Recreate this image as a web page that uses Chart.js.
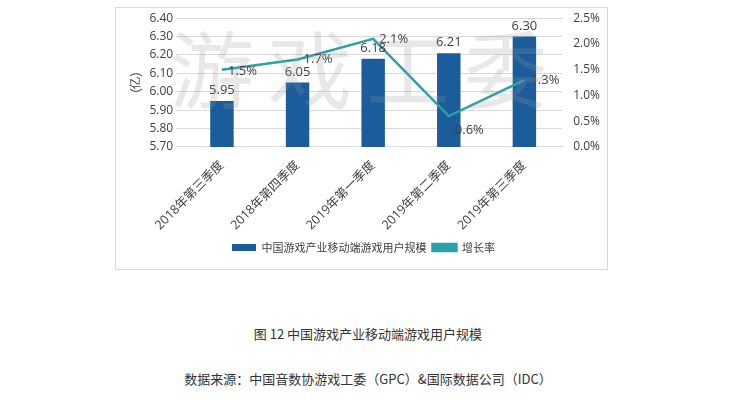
<!DOCTYPE html><html><head><meta charset="utf-8">
<script src="https://cdn.jsdelivr.net/npm/chart.js@4"></script>
<style>
body{margin:0;width:736px;height:401px;background:#fff;position:relative;font-family:"Noto Sans CJK SC",sans-serif;overflow:hidden}
#box{position:absolute;left:115px;top:7px;width:493px;height:263px;border:1px solid #d9d9d9;box-sizing:border-box}
#wm{position:absolute;left:170px;top:24px;font-size:84px;color:rgba(150,150,150,0.22);letter-spacing:14px;pointer-events:none;font-family:"Noto Sans CJK SC";line-height:1}
.cap{position:absolute;left:0;width:736px;text-align:center;font-size:13px;color:#333}
</style></head><body>
<div id="box"><canvas id="c" width="491" height="261"></canvas></div>
<div id="wm">游戏工委</div>
<div class="cap" style="top:324px">图 12 中国游戏产业移动端游戏用户规模</div>
<div class="cap" style="top:369px">数据来源：中国音数协游戏工委（GPC）&amp;国际数据公司（IDC）</div>
<script>
const categories=["2018年第三季度","2018年第四季度","2019年第一季度","2019年第二季度","2019年第三季度"];
const users=[5.95,6.05,6.18,6.21,6.30];
const growth=[1.5,1.7,2.1,0.6,1.3];
const labelPlugin={id:'lbl',afterDatasetsDraw(ch){const c=ch.ctx;c.save();c.font='13px "Open Sans","Noto Sans CJK SC"';c.fillStyle='#404040';
ch.getDatasetMeta(0).data.forEach((b,i)=>{c.textAlign='center';c.textBaseline='bottom';c.fillText(users[i].toFixed(2),b.x,b.y-4);});
ch.getDatasetMeta(1).data.forEach((p,i)=>{c.textAlign='left';c.textBaseline='middle';c.fillText(growth[i].toFixed(1)+'%',p.x+6,p.y+(i==3?14:0)+(i==0?2:0));});
c.restore();}};
new Chart(document.getElementById('c'),{data:{labels:categories,datasets:[
{type:'bar',label:'中国游戏产业移动端游戏用户规模',data:users,backgroundColor:'#1a5d9a',yAxisID:'y',barPercentage:0.62,categoryPercentage:0.5,order:2},
{type:'line',label:'增长率',data:growth,borderColor:'#2aa0aa',backgroundColor:'#2aa0aa',borderWidth:2.5,pointRadius:0,yAxisID:'y1',order:1}]},
options:{responsive:false,animation:false,layout:{padding:{left:8,right:4,top:8,bottom:6}},
plugins:{legend:{position:'bottom',labels:{sort:(a,b)=>a.datasetIndex-b.datasetIndex,boxWidth:24,boxHeight:7,font:{size:11,family:'"Noto Sans CJK SC"'},color:'#404040',padding:6}},tooltip:{enabled:false}},
scales:{x:{grid:{display:false},border:{color:'#d9d9d9'},ticks:{maxRotation:45,minRotation:45,color:'#404040',font:{size:12.5,family:'"Open Sans","Noto Sans CJK SC"'}}},
y:{min:5.7,max:6.4,ticks:{stepSize:0.1,autoSkip:false,callback:v=>v.toFixed(2),color:'#404040',font:{size:12,family:'"Open Sans"'}},grid:{color:'#d9d9d9'},border:{display:false},title:{display:true,text:'(亿)',color:'#404040',font:{size:12}}},
y1:{position:'right',min:0,max:2.5,ticks:{stepSize:0.5,autoSkip:false,callback:v=>v.toFixed(1)+'%',color:'#404040',font:{size:12,family:'"Open Sans"'}},grid:{display:false},border:{display:false}}}},
plugins:[labelPlugin]});
</script></body></html>
